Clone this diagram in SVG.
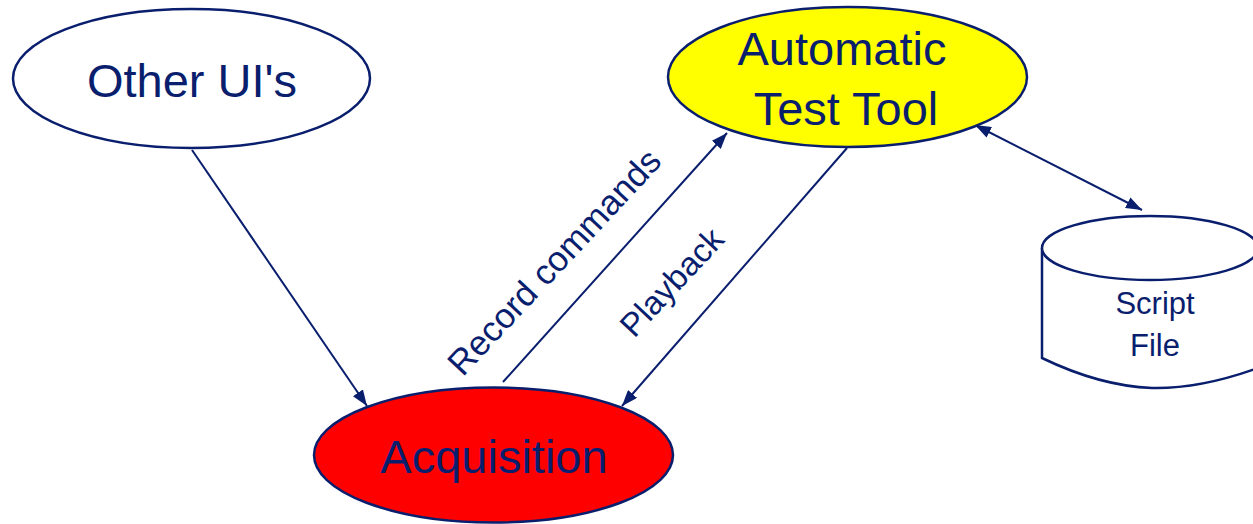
<svg xmlns="http://www.w3.org/2000/svg" width="1253" height="524" viewBox="0 0 1253 524">
<defs>
<style>
.node{stroke:#0a1e6e;stroke-width:2.5}
.lbl{font-family:"Liberation Sans",Arial,sans-serif;fill:#0a1e6e;text-anchor:middle}
.big{font-size:47px}
.mid{font-size:33px}
.rec{font-size:35px}
.sm{font-size:31px}
.edge{stroke:#0a1e6e;stroke-width:2;fill:none}
</style>
<marker id="ah" viewBox="0 0 16 12" refX="16" refY="6" markerWidth="16" markerHeight="12" markerUnits="userSpaceOnUse" orient="auto-start-reverse">
<path d="M0,0 L16,6 L0,12 Z" fill="#0a1e6e"/>
</marker>
</defs>
<rect width="1253" height="524" fill="#ffffff"/>
<g id="connectors">
<line class="edge" x1="192" y1="150" x2="367" y2="406" marker-end="url(#ah)"/>
<line class="edge" x1="503" y1="382" x2="727" y2="133" marker-end="url(#ah)"/>
<line class="edge" x1="847" y1="148" x2="622" y2="406" marker-end="url(#ah)"/>
<line class="edge" x1="975" y1="125" x2="1142" y2="210" marker-start="url(#ah)" marker-end="url(#ah)"/>
<text class="lbl rec" transform="translate(563,270) rotate(-47)">Record commands</text>
<text class="lbl mid" transform="translate(680,290) rotate(-47)">Playback</text>
</g>
<g id="other-uis">
<ellipse class="node" cx="191.5" cy="78.5" rx="178.5" ry="69.5" fill="#ffffff"/>
<text class="lbl big" x="192" y="97">Other UI's</text>
</g>
<g id="automatic-test-tool">
<ellipse class="node" cx="847.5" cy="77" rx="179.5" ry="70" fill="#ffff00"/>
<text class="lbl big" x="842" y="65">Automatic</text>
<text class="lbl big" x="846" y="125">Test Tool</text>
</g>
<g id="acquisition">
<ellipse class="node" cx="493.5" cy="455" rx="179.5" ry="67.5" fill="#ff0000"/>
<text class="lbl big" x="494" y="473">Acquisition</text>
</g>
<g id="script-file">
<path class="node" fill="#ffffff" d="M1042,248 L1042,358 Q1100,386 1152,388 Q1200,389 1258,368 L1258,248"/>
<ellipse class="node" cx="1150" cy="248" rx="108" ry="32" fill="#ffffff"/>
<text class="lbl sm" x="1155" y="314">Script</text>
<text class="lbl sm" x="1155" y="356">File</text>
</g>
</svg>
